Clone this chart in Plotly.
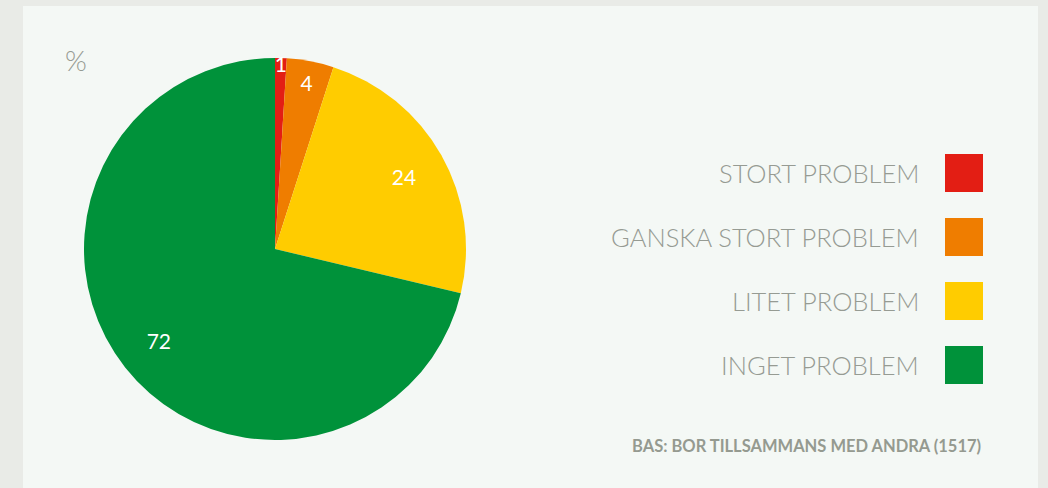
import plotly.graph_objects as go

# Data
categories = ['STORT PROBLEM', 'GANSKA STORT PROBLEM', 'LITET PROBLEM', 'INGET PROBLEM']
values = [1, 4, 24, 72]
colors = ['#e31e14', '#ef7d00', '#ffcc00', '#00923a']
unit_label = '%'
base_note = 'BAS: BOR TILLSAMMANS MED ANDRA (1517)'

W, H = 1048, 488
gray_text = '#969b93'
pie_domain = dict(x=[84 / W, 466 / W], y=[48 / H, 430 / H])

fig = go.Figure()

# coloured slices
fig.add_trace(go.Pie(
    labels=categories, values=values,
    marker=dict(colors=colors, line=dict(width=0)),
    sort=False, direction='clockwise', rotation=0,
    textinfo='none', domain=pie_domain,
    hoverinfo='skip', showlegend=False,
))

# transparent ring on top, only to carry the value labels further out
fig.add_trace(go.Pie(
    labels=categories, values=values, hole=0.55,
    marker=dict(colors=['rgba(0,0,0,0)'] * len(values), line=dict(width=0)),
    sort=False, direction='clockwise', rotation=0,
    textinfo='value', textposition='inside',
    insidetextorientation='horizontal',
    textfont=dict(color='white', size=21, family='Lato'),
    domain=pie_domain,
    hoverinfo='skip', showlegend=False,
))

# hand-made legend: squares on the right, text to their left
fig.add_trace(go.Scatter(
    x=[0] * len(categories), y=categories,
    mode='markers',
    marker=dict(symbol='square', size=38, color=colors, line=dict(width=0)),
    hoverinfo='skip', showlegend=False, cliponaxis=False,
))

annotations = [
    dict(text=unit_label, xref='paper', yref='paper', x=63 / W, y=(H - 60) / H,
         xanchor='left', yanchor='middle', showarrow=False,
         font=dict(size=28, color=gray_text, family='Lato', weight=300)),
    dict(text=base_note, xref='paper', yref='paper', x=983 / W, y=(H - 446) / H,
         xanchor='right', yanchor='middle', showarrow=False,
         font=dict(size=16.5, color='#959a90', family='Lato', weight='bold')),
]
for cat in categories:
    annotations.append(dict(
        text=cat, xref='paper', yref='y', x=921 / W, y=cat,
        xanchor='right', yanchor='middle', showarrow=False,
        font=dict(size=25.5, color=gray_text, family='Lato', weight=300)))

fig.update_layout(
    width=W, height=H,
    margin=dict(l=0, r=0, t=0, b=0),
    paper_bgcolor='#e9ebe7',
    plot_bgcolor='rgba(0,0,0,0)',
    uniformtext=dict(minsize=21, mode='show'),
    xaxis=dict(domain=[945 / W, 983 / W], range=[-0.5, 0.5], visible=False, fixedrange=True),
    yaxis=dict(domain=[(H - 397) / H, (H - 141) / H], type='category',
               categoryorder='array', categoryarray=categories,
               range=[len(categories) - 0.5, -0.5], visible=False, fixedrange=True),
    shapes=[dict(type='rect', xref='paper', yref='paper',
                 x0=23 / W, x1=1038 / W, y0=0, y1=(H - 6) / H,
                 fillcolor='#f4f8f5', line=dict(width=0), layer='below')],
    annotations=annotations,
)

fig.write_html("out.html",
               config=dict(displayModeBar=False),
               post_script="document.body.style.margin='0';"
                           "document.body.style.background='#e9ebe7';")
